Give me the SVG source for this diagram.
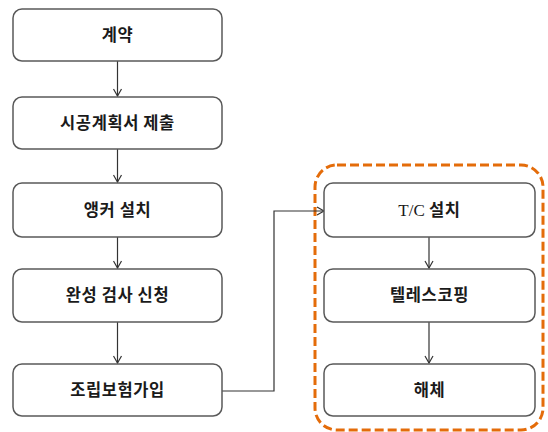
<svg xmlns="http://www.w3.org/2000/svg" width="548" height="432" viewBox="0 0 548 432">
<style>
.box{fill:#fff;stroke:#595959;stroke-width:1.5}
.t{font-family:"Noto Sans CJK KR","Liberation Sans",sans-serif;font-size:16.5px;font-weight:bold;fill:#1a1a1a;text-anchor:middle;letter-spacing:0.6px}
.ln{fill:none;stroke:#333;stroke-width:1.2}
</style>
<defs>
<marker id="ah" markerWidth="10" markerHeight="10" refX="8" refY="5" orient="auto" markerUnits="userSpaceOnUse">
<path d="M1,1 L8,5 L1,9" fill="none" stroke="#333" stroke-width="1.2"/>
</marker>
</defs>
<rect x="315" y="165" width="228" height="265" rx="22" fill="none" stroke="#E46C0A" stroke-width="3" stroke-dasharray="9 4"/>
<g id="connectors">
<line class="ln" x1="117.5" y1="61" x2="117.5" y2="96" marker-end="url(#ah)"/>
<line class="ln" x1="117.5" y1="149" x2="117.5" y2="182" marker-end="url(#ah)"/>
<line class="ln" x1="117.5" y1="237" x2="117.5" y2="268" marker-end="url(#ah)"/>
<line class="ln" x1="117.5" y1="322" x2="117.5" y2="363" marker-end="url(#ah)"/>
<polyline class="ln" points="222,391 274,391 274,211 324,211" marker-end="url(#ah)"/>
<line class="ln" x1="429" y1="237" x2="429" y2="268" marker-end="url(#ah)"/>
<line class="ln" x1="429" y1="322" x2="429" y2="363" marker-end="url(#ah)"/>
</g>
<g id="n1"><rect class="box" x="13" y="9" width="209" height="52" rx="9"/><text class="t" x="117.5" y="41">계약</text></g>
<g id="n2"><rect class="box" x="13" y="97" width="209" height="52" rx="9"/><text class="t" x="117.5" y="129">시공계획서 제출</text></g>
<g id="n3"><rect class="box" x="13" y="183" width="209" height="54" rx="9"/><text class="t" x="117.5" y="216">앵커 설치</text></g>
<g id="n4"><rect class="box" x="13" y="269" width="209" height="53" rx="9"/><text class="t" x="117.5" y="301">완성 검사 신청</text></g>
<g id="n5"><rect class="box" x="13" y="364" width="209" height="52" rx="9"/><text class="t" x="117.5" y="396">조립보험가입</text></g>
<g id="n6"><rect class="box" x="324" y="183" width="211" height="54" rx="9"/><text class="t" x="429.5" y="216"><tspan font-family="'Liberation Serif',serif" font-weight="normal" font-size="17" letter-spacing="0">T/C </tspan>설치</text></g>
<g id="n7"><rect class="box" x="324" y="269" width="211" height="53" rx="9"/><text class="t" x="429.5" y="301">텔레스코핑</text></g>
<g id="n8"><rect class="box" x="324" y="364" width="211" height="52" rx="9"/><text class="t" x="429.5" y="396">해체</text></g>
</svg>
